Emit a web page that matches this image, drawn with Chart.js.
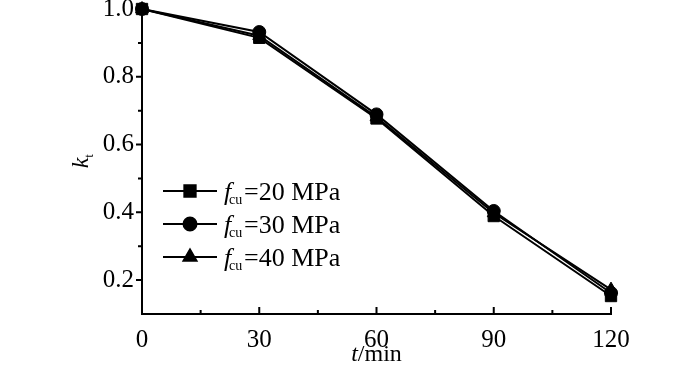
<!DOCTYPE html>
<html>
<head>
<meta charset="UTF-8">
<title>kt - t</title>
<script src="https://cdn.jsdelivr.net/npm/chart.js"></script>
<style>
    body { margin: 0; background: #fff; }
    canvas { display: block; }
</style>
</head>
<body>
<canvas id="chart" width="700" height="367"></canvas>
<script>
const times = [0, 30, 60, 90, 120];
const kt20 = [1.0, 0.915, 0.677, 0.389, 0.153];
const kt30 = [1.0, 0.932, 0.689, 0.404, 0.162];
const kt40 = [1.0, 0.921, 0.681, 0.398, 0.172];
const seriesNames = ["=20 MPa", "=30 MPa", "=40 MPa"];
const xMajor = [0, 30, 60, 90, 120];
const xMinor = [15, 45, 75, 105];
const yMajor = [0.2, 0.4, 0.6, 0.8, 1.0];
const yMinor = [0.3, 0.5, 0.7, 0.9];

const serif = '"Liberation Serif", "DejaVu Serif", serif';

function toPoints(vals) {
    return times.map((t, i) => ({ x: t, y: vals[i] }));
}

function makeSet(label, vals, style, r, order) {
    return {
        label: label,
        data: toPoints(vals),
        borderColor: "#000",
        backgroundColor: "#000",
        borderWidth: 2,
        pointStyle: style,
        pointRadius: r,
        pointBorderWidth: 1,
        tension: 0,
        clip: false,
        order: order
    };
}

// ticks, axis titles and legend drawn by hand (italic + subscript text)
const decor = {
    id: "decor",
    afterDraw(chart) {
        const ctx = chart.ctx;
        const xs = chart.scales.x, ys = chart.scales.y;
        const bottom = xs.top, left = ys.right;
        ctx.save();
        ctx.strokeStyle = "#000";
        ctx.lineWidth = 2;
        ctx.beginPath();
        xMajor.forEach(v => { const p = xs.getPixelForValue(v); ctx.moveTo(p, bottom); ctx.lineTo(p, bottom - 7); });
        xMinor.forEach(v => { const p = xs.getPixelForValue(v); ctx.moveTo(p, bottom); ctx.lineTo(p, bottom - 4); });
        yMajor.forEach(v => { const p = ys.getPixelForValue(v); ctx.moveTo(left, p); ctx.lineTo(left - 6, p); });
        yMinor.forEach(v => { const p = ys.getPixelForValue(v); ctx.moveTo(left, p); ctx.lineTo(left - 4, p); });
        ctx.stroke();

        ctx.fillStyle = "#000";
        ctx.textBaseline = "alphabetic";
        // x title
        ctx.font = "italic 24px " + serif;
        const w1 = ctx.measureText("t").width;
        ctx.font = "24px " + serif;
        const w2 = ctx.measureText("/min").width;
        let cx = (xs.left + xs.right) / 2 - (w1 + w2) / 2;
        ctx.font = "italic 24px " + serif;
        ctx.fillText("t", cx, 361);
        ctx.font = "24px " + serif;
        ctx.fillText("/min", cx + w1, 361);

        // y title
        ctx.save();
        ctx.translate(88, 160);
        ctx.rotate(-Math.PI / 2);
        ctx.font = "italic 24px " + serif;
        const kw = ctx.measureText("k").width;
        ctx.fillText("k", -kw / 2 - 3, 0);
        ctx.font = "13px " + serif;
        ctx.fillText("t", kw / 2 - 3, 5);
        ctx.restore();

        // legend
        const rowsY = [191, 224, 257];
        chart.data.datasets.forEach((ds, i) => {
            const y = rowsY[i];
            ctx.lineWidth = 2;
            ctx.beginPath();
            ctx.moveTo(163, y);
            ctx.lineTo(217, y);
            ctx.stroke();
            Chart.helpers.drawPoint(ctx, {
                pointStyle: ds.pointStyle, radius: ds.pointRadius, rotation: 0, borderWidth: 1
            }, 190, y);
            ctx.font = "italic 26px " + serif;
            ctx.fillText("f", 224, y + 9);
            ctx.font = "14px " + serif;
            ctx.fillText("cu", 229, y + 13);
            ctx.font = "26px " + serif;
            ctx.fillText(seriesNames[i], 244, y + 9);
        });
        ctx.restore();
    }
};

new Chart(document.getElementById("chart"), {
    type: "line",
    data: {
        datasets: [
            makeSet("fcu=20 MPa", kt20, "rect", 8, 3),
            makeSet("fcu=30 MPa", kt30, "circle", 6.5, 1),
            makeSet("fcu=40 MPa", kt40, "triangle", 7.5, 2)
        ]
    },
    options: {
        responsive: false,
        animation: false,
        layout: { padding: { top: 7, right: 89, left: 0, bottom: 0 } },
        plugins: { legend: { display: false }, tooltip: { enabled: false } },
        scales: {
            x: {
                type: "linear",
                min: 0,
                max: 120,
                afterFit(s) { s.height = 53; s.paddingRight = 0; },
                afterBuildTicks(s) { s.ticks = xMajor.map(v => ({ value: v })); },
                grid: { display: false },
                border: { display: true, color: "#000", width: 2 },
                ticks: { color: "#000", padding: 3, maxRotation: 0, font: { family: serif, size: 25 } }
            },
            y: {
                min: 0.1,
                max: 1.0,
                afterFit(s) { s.width = 142; s.paddingTop = 0; s.paddingBottom = 0; },
                afterBuildTicks(s) { s.ticks = yMajor.map(v => ({ value: v })); },
                grid: { display: false },
                border: { display: true, color: "#000", width: 2 },
                ticks: {
                    color: "#000", padding: 0, font: { family: serif, size: 25 },
                    callback: v => Number(v).toFixed(1)
                }
            }
        }
    },
    plugins: [decor]
});
</script>
</body>
</html>
